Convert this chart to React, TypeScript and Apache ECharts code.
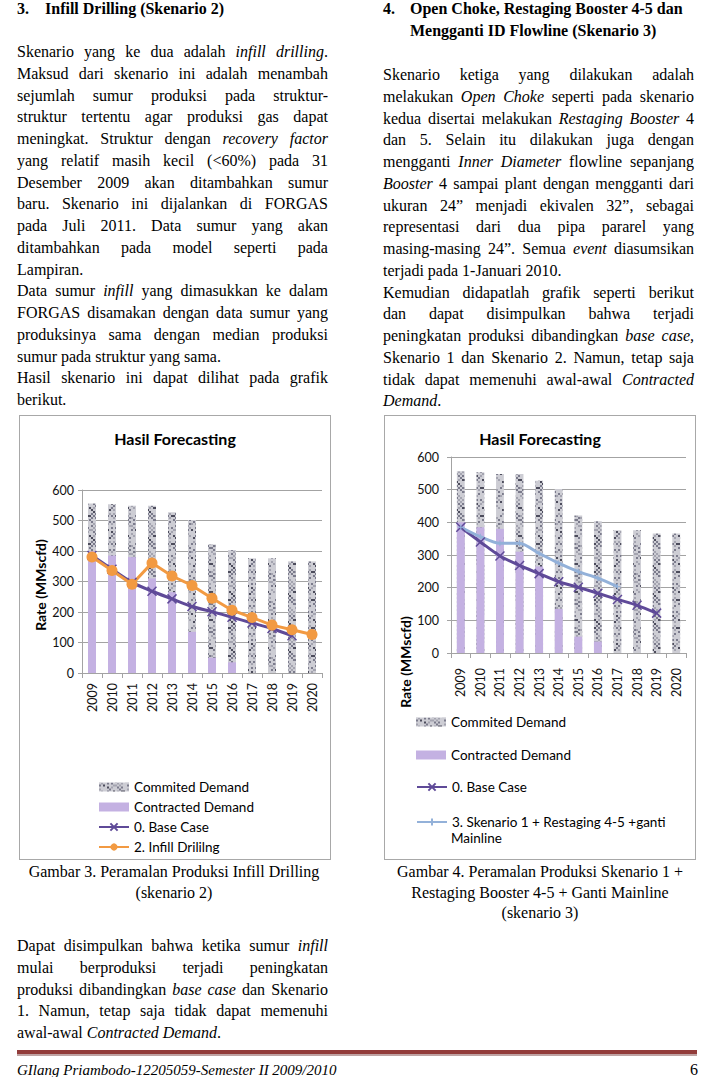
import React, { useEffect, useRef } from 'react';
import * as echarts from 'echarts';

// ---------------- DATA ----------------
const years = ['2009', '2010', '2011', '2012', '2013', '2014', '2015', '2016', '2017', '2018', '2019', '2020'];
const committedDemand = [556, 553, 548, 548, 527, 502, 421, 403, 376, 376, 366, 366];
const contractedDemand = [400, 385, 380, 310, 265, 135, 50, 35, 0, 0, 0, 0];
const baseCase = [385, 340, 297, 268, 243, 218, 201, 183, 164, 146, 122, null];
const infillDrilling = [380, 336, 291, 361, 318, 287, 245, 206, 182, 157, 142, 126];
const skenario3 = [385, 356, 336, 336, 305, 275, 249, 229, 203, null, null, null];
const yTicks = { min: 0, max: 600, interval: 100 };

// ---------------- TEXT ----------------
type Line = { t: string; j: boolean };
const leftPara: Line[] = [
  { t: 'Skenario yang ke dua adalah *infill drilling*.', j: true },
  { t: 'Maksud dari skenario ini adalah menambah', j: true },
  { t: 'sejumlah sumur produksi pada struktur-', j: true },
  { t: 'struktur tertentu agar produksi gas dapat', j: true },
  { t: 'meningkat. Struktur dengan *recovery factor*', j: true },
  { t: 'yang relatif masih kecil (<60%) pada 31', j: true },
  { t: 'Desember 2009 akan ditambahkan sumur', j: true },
  { t: 'baru. Skenario ini dijalankan di FORGAS', j: true },
  { t: 'pada Juli 2011. Data sumur yang akan', j: true },
  { t: 'ditambahkan pada model seperti pada', j: true },
  { t: 'Lampiran.', j: false },
  { t: 'Data sumur *infill* yang dimasukkan ke dalam', j: true },
  { t: 'FORGAS disamakan dengan data sumur yang', j: true },
  { t: 'produksinya sama dengan median produksi', j: true },
  { t: 'sumur pada struktur yang sama.', j: false },
  { t: 'Hasil skenario ini dapat dilihat pada grafik', j: true },
  { t: 'berikut.', j: false },
];
const rightPara: Line[] = [
  { t: 'Skenario ketiga yang dilakukan adalah', j: true },
  { t: 'melakukan *Open Choke* seperti pada skenario', j: true },
  { t: 'kedua disertai melakukan *Restaging Booster* 4', j: true },
  { t: 'dan 5. Selain itu dilakukan juga dengan', j: true },
  { t: 'mengganti *Inner Diameter* flowline sepanjang', j: true },
  { t: '*Booster* 4 sampai plant dengan mengganti dari', j: true },
  { t: 'ukuran 24\u201d menjadi ekivalen 32\u201d, sebagai', j: true },
  { t: 'representasi dari dua pipa pararel yang', j: true },
  { t: 'masing-masing 24\u201d. Semua *event* diasumsikan', j: true },
  { t: 'terjadi pada 1-Januari 2010.', j: false },
  { t: 'Kemudian didapatlah grafik seperti berikut', j: true },
  { t: 'dan dapat disimpulkan bahwa terjadi', j: true },
  { t: 'peningkatan produksi dibandingkan *base case,*', j: true },
  { t: 'Skenario 1 dan Skenario 2. Namun, tetap saja', j: true },
  { t: 'tidak dapat memenuhi awal-awal *Contracted*', j: true },
  { t: '*Demand*.', j: false },
];
const bottomPara: Line[] = [
  { t: 'Dapat disimpulkan bahwa ketika sumur *infill*', j: true },
  { t: 'mulai berproduksi terjadi peningkatan', j: true },
  { t: 'produksi dibandingkan *base case* dan Skenario', j: true },
  { t: '1. Namun, tetap saja tidak dapat memenuhi', j: true },
  { t: 'awal-awal *Contracted Demand*.', j: false },
];
const caption1 = ['Gambar 3. Peramalan Produksi Infill Drilling', '(skenario 2)'];
const caption2 = ['Gambar 4. Peramalan Produksi Skenario 1 +', 'Restaging Booster 4-5 + Ganti Mainline', '(skenario 3)'];

// ---------------- STYLE ----------------
const SERIF = '"Liberation Serif", "Times New Roman", serif';
const SANS = 'Lato, "Open Sans", sans-serif';
const GRID = '#a3a3a3';
const CONTRACTED = '#c4b1e2';
const BASE = '#5f4a98';
const ORANGE = '#f29a42';
const LIGHTBLUE = '#93b1d9';
const X_PATH = 'path://M0 0 L10 10 M10 0 L0 10';
const PLUS_PATH = 'path://M5 0 L5 10 M0 5 L10 5';
const LH = 21.75;

function makePattern(): HTMLCanvasElement {
  const c = document.createElement('canvas');
  const cell = 2;
  const n = 14;
  c.width = cell * n;
  c.height = cell * n;
  const ctx = c.getContext('2d')!;
  for (let y = 0; y < n; y++) {
    for (let x = 0; x < n; x++) {
      let h = Math.imul(x * 374761393 + y * 668265263 + 97, 1274126177) >>> 0;
      h = (h ^ (h >>> 15)) % 100;
      const col = h < 36 ? '#cdcdd4' : h < 64 ? '#a4a4b0' : h < 84 ? '#7b7b8c' : '#4c4c5c';
      ctx.fillStyle = col;
      ctx.fillRect(x * cell, y * cell, cell, cell);
    }
  }
  return c;
}

function Words({ text }: { text: string }) {
  const parts = text.split('*');
  const words: { t: string; i: boolean }[][] = [[]];
  parts.forEach((p, idx) => {
    const it = idx % 2 === 1;
    const chunks = p.split(' ');
    chunks.forEach((ch, ci) => {
      if (ci > 0) words.push([]);
      if (ch) words[words.length - 1].push({ t: ch, i: it });
    });
  });
  return (
    <>
      {words
        .filter((w) => w.length)
        .map((w, wi) => (
          <span key={wi} style={{ whiteSpace: 'nowrap' }}>
            {w.map((s, si) => (
              <span key={si} style={{ fontStyle: s.i ? 'italic' : 'normal' }}>
                {s.t}
              </span>
            ))}
          </span>
        ))}
    </>
  );
}

function TextLine({ line, x, y, w }: { line: Line; x: number; y: number; w: number }) {
  const base: React.CSSProperties = {
    position: 'absolute',
    left: x,
    top: y - 12,
    width: w,
    height: 22,
    lineHeight: '22px',
    fontFamily: SERIF,
    fontSize: 16,
    color: '#000',
    whiteSpace: 'nowrap',
  };
  if (line.j) {
    return (
      <div style={{ ...base, display: 'flex', justifyContent: 'space-between' }}>
        <Words text={line.t} />
      </div>
    );
  }
  const words = line.t.split('*');
  return (
    <div style={base}>
      {words.map((s, i) => (
        <span key={i} style={{ fontStyle: i % 2 ? 'italic' : 'normal' }}>
          {s}
        </span>
      ))}
    </div>
  );
}

function Para({ lines, x, y0, w }: { lines: Line[]; x: number; y0: number; w: number }) {
  return (
    <>
      {lines.map((l, i) => (
        <TextLine key={i} line={l} x={x} y={y0 + i * LH} w={w} />
      ))}
    </>
  );
}

function Caption({ lines, cx, y0, step }: { lines: string[]; cx: number; y0: number; step: number }) {
  return (
    <>
      {lines.map((l, i) => (
        <div
          key={i}
          style={{
            position: 'absolute',
            left: cx - 200,
            width: 400,
            top: y0 + i * step - 12,
            height: 22,
            lineHeight: '22px',
            textAlign: 'center',
            fontFamily: SERIF,
            fontSize: 16,
            color: '#000',
            whiteSpace: 'nowrap',
          }}
        >
          {l}
        </div>
      ))}
    </>
  );
}

function axisCommon(labelMarginX: number, labelMarginY: number) {
  return {
    xAxis: {
      type: 'category',
      data: years,
      boundaryGap: true,
      axisLine: { show: true, lineStyle: { color: GRID, width: 1 } },
      axisTick: { show: true, length: 5, alignWithLabel: false, lineStyle: { color: GRID } },
      axisLabel: { rotate: 90, margin: labelMarginX, fontFamily: SANS, fontSize: 12.5, color: '#111', interval: 0 },
    },
    yAxis: {
      type: 'value',
      min: yTicks.min,
      max: yTicks.max,
      interval: yTicks.interval,
      axisLine: { show: true, lineStyle: { color: GRID, width: 1 } },
      axisTick: { show: true, length: 4, lineStyle: { color: GRID } },
      axisLabel: { margin: labelMarginY, fontFamily: SANS, fontSize: 12.5, color: '#111' },
      splitLine: { show: true, lineStyle: { color: GRID, width: 1 } },
    },
  };
}

function barSeries(pattern: HTMLCanvasElement) {
  return [
    {
      name: 'Commited Demand',
      type: 'bar',
      data: committedDemand,
      barWidth: '40%',
      itemStyle: { color: { image: pattern, repeat: 'repeat' } },
    },
    {
      name: 'Contracted Demand',
      type: 'bar',
      data: contractedDemand,
      barWidth: '40%',
      barGap: '-100%',
      itemStyle: { color: CONTRACTED },
    },
  ];
}

const baseSeries = {
  name: '0. Base Case',
  type: 'line',
  data: baseCase,
  smooth: 0.25,
  symbol: X_PATH,
  symbolSize: 9,
  lineStyle: { color: BASE, width: 3 },
  itemStyle: { color: BASE, borderColor: BASE, borderWidth: 1.5 },
};

const titleOpt = {
  text: 'Hasil Forecasting',
  left: 'center',
  top: 15,
  padding: 0,
  textStyle: { fontFamily: SANS, fontWeight: 'bold', fontSize: 16, color: '#000', lineHeight: 16 },
};

const legendText = { fontFamily: SANS, fontSize: 13.5, color: '#000', lineHeight: 14 };

function option1(pattern: HTMLCanvasElement) {
  const ax = axisCommon(10, 8);
  return {
    animation: false,
    title: titleOpt,
    grid: { left: 63, right: 9, top: 75, height: 183 },
    ...ax,
    legend: {
      orient: 'vertical',
      left: 79,
      top: 365,
      padding: 0,
      itemGap: 6,
      itemWidth: 30,
      itemHeight: 9,
      textStyle: legendText,
      data: [
        { name: 'Commited Demand', icon: 'rect' },
        { name: 'Contracted Demand', icon: 'rect' },
        '0. Base Case',
        '2. Infill Drililng',
      ],
    },
    graphic: [
      {
        type: 'text',
        x: 21,
        y: 170,
        rotation: Math.PI / 2,
        style: {
          text: 'Rate (MMscfd)',
          fontFamily: SANS,
          fontWeight: 'bold',
          fontSize: 14,
          fill: '#000',
          align: 'center',
          verticalAlign: 'middle',
        },
      },
    ],
    series: [
      ...barSeries(pattern),
      baseSeries,
      {
        name: '2. Infill Drililng',
        type: 'line',
        data: infillDrilling,
        symbol: 'circle',
        symbolSize: 11,
        lineStyle: { color: ORANGE, width: 3 },
        itemStyle: { color: ORANGE },
      },
    ],
  };
}

const S3NAME = '3. Skenario 1 + Restaging 4-5 +ganti Mainline';

function option2(pattern: HTMLCanvasElement) {
  const ax = axisCommon(15, 12);
  const lg = (name: string, center: number, icon?: string) => ({
    orient: 'vertical',
    left: 32,
    top: center - 7,
    padding: 0,
    itemWidth: 30,
    itemHeight: 9,
    textStyle: legendText,
    formatter: (n: string) => (n === S3NAME ? '3. Skenario 1 + Restaging 4-5 +ganti' : n),
    data: [icon ? { name, icon } : name],
  });
  return {
    animation: false,
    title: titleOpt,
    grid: { left: 67, right: 10, top: 42, height: 196 },
    ...ax,
    legend: [
      lg('Commited Demand', 307, 'rect'),
      lg('Contracted Demand', 340, 'rect'),
      lg('0. Base Case', 372),
      lg(S3NAME, 407),
    ],
    graphic: [
      {
        type: 'text',
        x: 21,
        y: 247,
        rotation: Math.PI / 2,
        style: {
          text: 'Rate (MMscfd)',
          fontFamily: SANS,
          fontWeight: 'bold',
          fontSize: 14,
          fill: '#000',
          align: 'center',
          verticalAlign: 'middle',
        },
      },
      {
        type: 'text',
        x: 67,
        y: 423,
        style: {
          text: 'Mainline',
          fontFamily: SANS,
          fontSize: 13.5,
          fill: '#000',
          align: 'left',
          verticalAlign: 'middle',
        },
      },
    ],
    series: [
      ...barSeries(pattern),
      baseSeries,
      {
        name: S3NAME,
        type: 'line',
        data: skenario3,
        smooth: 0.25,
        symbol: PLUS_PATH,
        symbolSize: 6,
        lineStyle: { color: LIGHTBLUE, width: 3 },
        itemStyle: { color: LIGHTBLUE, borderColor: LIGHTBLUE, borderWidth: 1 },
      },
    ],
  };
}

function ChartBox({ left, top, width, height, which }: { left: number; top: number; width: number; height: number; which: 1 | 2 }) {
  const ref = useRef<HTMLDivElement>(null);
  useEffect(() => {
    if (!ref.current) return;
    const chart = echarts.init(ref.current, null, { renderer: 'svg' });
    const pattern = makePattern();
    chart.setOption((which === 1 ? option1(pattern) : option2(pattern)) as any);
    return () => chart.dispose();
  }, [which]);
  return (
    <>
      <div ref={ref} style={{ position: 'absolute', left, top, width, height }} />
      <div
        style={{
          position: 'absolute',
          left,
          top,
          width,
          height,
          boxSizing: 'border-box',
          border: '1px solid #a8a8a8',
          pointerEvents: 'none',
        }}
      />
    </>
  );
}

const headStyle: React.CSSProperties = {
  position: 'absolute',
  fontFamily: SERIF,
  fontWeight: 'bold',
  fontSize: 16,
  lineHeight: '22px',
  height: 22,
  whiteSpace: 'nowrap',
  color: '#000',
};

export default function App() {
  return (
    <div style={{ position: 'absolute', left: 0, top: 0, width: 714, height: 1077, background: '#fff', overflow: 'hidden' }}>
      {/* left column heading */}
      <div style={{ ...headStyle, left: 17, top: 10 - 12 }}>3.</div>
      <div style={{ ...headStyle, left: 45, top: 10 - 12 }}>Infill Drilling (Skenario 2)</div>
      <Para lines={leftPara} x={17} y0={53} w={311} />

      {/* right column heading */}
      <div style={{ ...headStyle, left: 383, top: 10 - 12 }}>4.</div>
      <div style={{ ...headStyle, left: 410, top: 10 - 12 }}>Open Choke, Restaging Booster 4-5 dan</div>
      <div style={{ ...headStyle, left: 410, top: 32 - 12 }}>Mengganti ID Flowline (Skenario 3)</div>
      <Para lines={rightPara} x={383} y0={76} w={311} />

      <ChartBox left={19} top={415} width={312} height={445} which={1} />
      <ChartBox left={384} top={415} width={312} height={445} which={2} />

      <Caption lines={caption1} cx={174} y0={873} step={20.5} />
      <Caption lines={caption2} cx={540} y0={873} step={20.5} />

      <Para lines={bottomPara} x={17} y0={947} w={311} />

      <div style={{ position: 'absolute', left: 17, top: 1050, width: 680, height: 4, background: '#923c3a' }} />
      <div style={{ position: 'absolute', left: 17, top: 1054, width: 680, height: 2, background: '#bfa3a3' }} />
      <div
        style={{
          position: 'absolute',
          left: 17,
          top: 1064,
          height: 12,
          lineHeight: '12px',
          fontFamily: SERIF,
          fontStyle: 'italic',
          fontSize: 15,
          whiteSpace: 'nowrap',
        }}
      >
        GIlang Priambodo-12205059-Semester II 2009/2010
      </div>
      <div
        style={{
          position: 'absolute',
          right: 16,
          top: 1064,
          height: 12,
          lineHeight: '12px',
          fontFamily: SERIF,
          fontSize: 16,
        }}
      >
        6
      </div>
    </div>
  );
}
